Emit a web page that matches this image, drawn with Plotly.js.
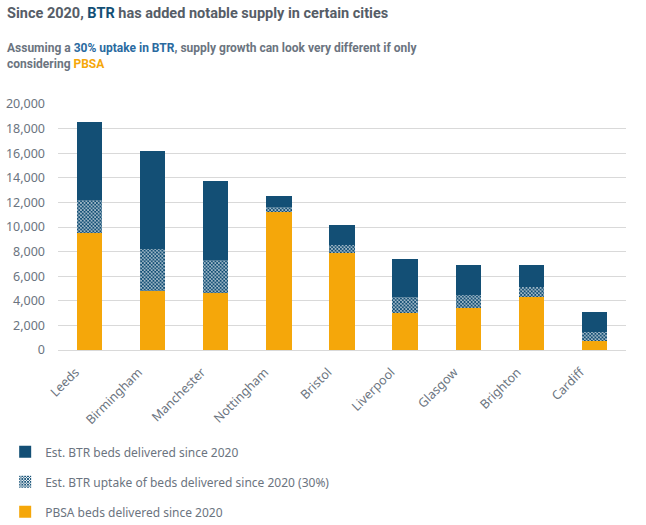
<!DOCTYPE html>
<html>
<head>
<meta charset="utf-8">
<script src="https://cdn.plot.ly/plotly-3.0.1.min.js"></script>
<style>html,body{margin:0;padding:0;background:#fff;}#chart{width:646px;height:525px;}</style>
</head>
<body>
<div id="chart"></div>
<script>
const cities = ["Leeds","Birmingham","Manchester","Nottingham","Bristol","Liverpool","Glasgow","Brighton","Cardiff"];
const pbsaBeds = [9500, 4800, 4650, 11250, 7850, 3000, 3450, 4350, 750];
const btrUptake = [2700, 3420, 2700, 400, 650, 1330, 1050, 800, 730];
const btrBeds = [6300, 7980, 6350, 900, 1700, 3100, 2450, 1800, 1620];
const yTicks = [0,2000,4000,6000,8000,10000,12000,14000,16000,18000,20000];

const navy = "#134f75";
const orange = "#f5a70a";
const grey = "#6b7480";

const traces = [
  {type:"bar", name:"PBSA beds delivered since 2020", x:cities, y:pbsaBeds,
   marker:{color:orange}, legendgroup:"c", legendrank:3, hoverinfo:"y"},
  {type:"bar", name:"Est. BTR uptake of beds delivered since 2020 (30%)", x:cities, y:btrUptake,
   marker:{color:navy, pattern:{shape:"x", fgcolor:navy, bgcolor:"#ffffff", size:2.5, solidity:0.7, fillmode:"replace"}},
   legendgroup:"b", legendrank:2, hoverinfo:"y"},
  {type:"bar", name:"Est. BTR beds delivered since 2020", x:cities, y:btrBeds,
   marker:{color:navy}, legendgroup:"a", legendrank:1, hoverinfo:"y"}
];

const layout = {
  width:646, height:525,
  margin:{l:58, r:20, t:104, b:175, autoexpand:false},
  barmode:"stack", bargap:0.6,
  paper_bgcolor:"#fff", plot_bgcolor:"#fff",
  font:{family:"Noto Sans, sans-serif", color:grey, size:12},
  showlegend:true,
  legend:{orientation:"v", x:-0.093, xanchor:"left", y:-0.355, yanchor:"top",
          traceorder:"grouped", tracegroupgap:11,
          font:{size:12, color:grey}, itemwidth:30},
  xaxis:{tickangle:-45, tickfont:{size:12.5, color:grey}, showline:true, linecolor:"#d9d9d9", linewidth:1, ticks:"",
         ticklabelshift:-14, ticklabelstandoff:9, automargin:false},
  yaxis:{range:[0,20000], tickvals:yTicks, tickformat:",d", tickfont:{size:12.5, color:grey},
         gridcolor:"#d9d9d9", gridwidth:1, zeroline:false, ticks:"", ticklen:0, ticklabelstandoff:12, automargin:false},
  annotations:[
    {xref:"paper", yref:"paper", x:-0.093, y:1.366, xanchor:"left", yanchor:"middle", showarrow:false, align:"left",
     text:"<b>Since 2020, <span style='color:"+navy+"'>BTR</span> has added notable supply in certain cities</b>",
     font:{family:"Roboto, sans-serif", size:14.5, color:"#565d67"}},
    {xref:"paper", yref:"paper", x:-0.093, y:1.197, xanchor:"left", yanchor:"middle", showarrow:false, align:"left",
     text:"<b>Assuming a <span style='color:#2a6aa0'>30% uptake in BTR</span>, supply growth can look very different if only<br>considering <span style='color:"+orange+"'>PBSA</span></b>",
     font:{family:"Roboto, sans-serif", size:12, color:"#6b7480"}}
  ]
};

Plotly.newPlot("chart", traces, layout, {displayModeBar:false, staticPlot:true});
</script>
</body>
</html>
